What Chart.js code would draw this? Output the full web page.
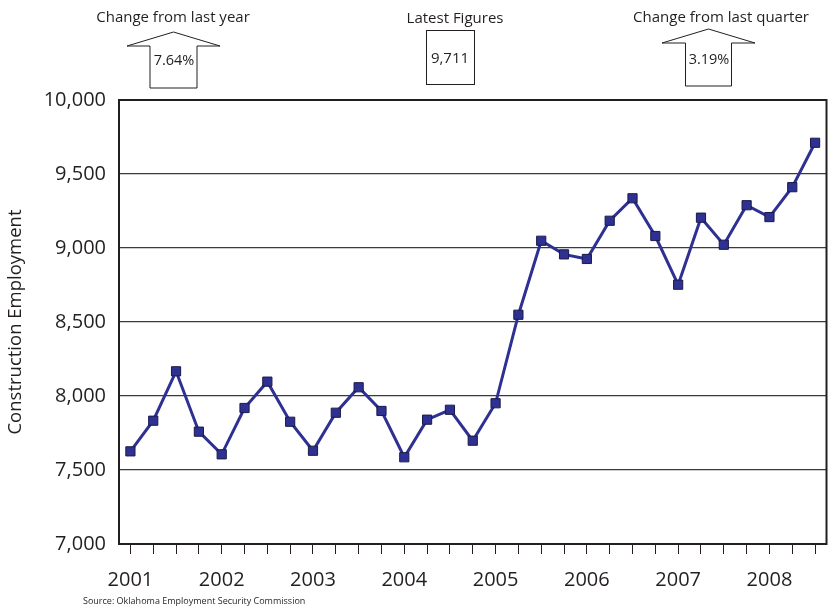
<!DOCTYPE html>
<html>
<head>
<meta charset="utf-8">
<script src="https://cdn.jsdelivr.net/npm/chart.js@4/dist/chart.umd.min.js"></script>
<style>
  html, body { margin: 0; padding: 0; background: #fff; }
  #wrap { width: 834px; height: 608px; position: relative; }
</style>
</head>
<body>
<div id="wrap"><canvas id="c" width="834" height="608"></canvas></div>
<script>
// ---- data ----
const years = ['2001', '2002', '2003', '2004', '2005', '2006', '2007', '2008'];
const quarterNames = ['Q1', 'Q2', 'Q3', 'Q4'];
const quarters = [];
years.forEach(y => quarterNames.forEach(q => { if (!(y === '2008' && q === 'Q4')) quarters.push(y + ' ' + q); }));
const employment = [7626, 7833, 8167, 7759, 7606, 7919, 8097, 7826,
                    7630, 7887, 8059, 7899, 7586, 7840, 7907, 7698,
                    7951, 8549, 9049, 8957, 8926, 9184, 9336, 9081,
                    8752, 9205, 9022, 9289, 9209, 9411, 9711];
const yTicks = [7000, 7500, 8000, 8500, 9000, 9500, 10000];
const annYear = { title: 'Change from last year', value: '7.64%' };
const annLatest = { title: 'Latest Figures', value: '9,711' };
const annQuarter = { title: 'Change from last quarter', value: '3.19%' };
const sourceText = 'Source: Oklahoma Employment Security Commission';

const FONT = '"Open Sans", "Noto Sans", sans-serif';
const TXT = '#231f20';

function upArrow(ctx, cx, tipY, wingHalf, wingY, shaftHalf, bottomY) {
  ctx.beginPath();
  ctx.moveTo(cx, tipY);
  ctx.lineTo(cx + wingHalf, wingY);
  ctx.lineTo(cx + shaftHalf, wingY);
  ctx.lineTo(cx + shaftHalf, bottomY);
  ctx.lineTo(cx - shaftHalf, bottomY);
  ctx.lineTo(cx - shaftHalf, wingY);
  ctx.lineTo(cx - wingHalf, wingY);
  ctx.closePath();
  ctx.fillStyle = '#fff';
  ctx.fill();
  ctx.stroke();
}

const annotations = {
  id: 'annotations',
  afterDraw(chart) {
    const ctx = chart.ctx;
    const a = chart.chartArea;
    ctx.save();
    // plot frame
    ctx.strokeStyle = '#231f20';
    ctx.lineWidth = 2;
    ctx.strokeRect(a.left, a.top, a.right - a.left, a.bottom - a.top);

    ctx.lineWidth = 1;
    ctx.strokeStyle = '#231f20';
    ctx.fillStyle = TXT;
    ctx.textAlign = 'center';
    ctx.textBaseline = 'middle';

    // Change from last year
    ctx.font = '15px ' + FONT;
    ctx.fillStyle = TXT;
    ctx.fillText(annYear.title, 173, 18);
    upArrow(ctx, 173.5, 32, 46.5, 46, 23.5, 88);
    ctx.fillStyle = TXT;
    ctx.font = '14.5px ' + FONT;
    ctx.fillText(annYear.value, 174, 61);

    // Latest figures
    ctx.font = '15px ' + FONT;
    ctx.fillText(annLatest.title, 455, 19);
    ctx.fillStyle = '#fff';
    ctx.fillRect(426.5, 30.5, 48, 54);
    ctx.strokeRect(426.5, 30.5, 48, 54);
    ctx.fillStyle = TXT;
    ctx.font = '15px ' + FONT;
    ctx.fillText(annLatest.value, 450, 59);

    // Change from last quarter
    ctx.font = '15px ' + FONT;
    ctx.fillText(annQuarter.title, 721, 18);
    upArrow(ctx, 708.5, 29, 46.5, 43, 23, 86);
    ctx.fillStyle = TXT;
    ctx.font = '14.5px ' + FONT;
    ctx.fillText(annQuarter.value, 709, 60);

    // source
    ctx.font = '9px ' + FONT;
    ctx.textAlign = 'left';
    ctx.fillText(sourceText, 83, 601);
    ctx.restore();
  }
};

new Chart(document.getElementById('c'), {
  type: 'line',
  data: {
    labels: quarters,
    datasets: [{
      data: employment,
      borderColor: '#2e3192',
      borderWidth: 3,
      backgroundColor: '#2e3192',
      pointStyle: 'rect',
      pointRadius: 6.5,
      pointBorderWidth: 1,
      pointBorderColor: '#1a1a4a',
      pointBackgroundColor: '#2e3192',
      tension: 0,
      fill: false
    }]
  },
  options: {
    responsive: false,
    animation: false,
    devicePixelRatio: 1,
    layout: { padding: { top: 100, right: 4, bottom: 0, left: 0 } },
    plugins: { legend: { display: false }, tooltip: { enabled: false } },
    scales: {
      x: {
        type: 'category',
        offset: true,
        afterFit(scale) { scale.height = 64; },
        grid: {
          display: true,
          drawOnChartArea: false,
          drawTicks: true,
          tickLength: 10,
          tickColor: '#231f20',
          tickWidth: 1,
          offset: false
        },
        border: { display: true, color: '#231f20', width: 2 },
        ticks: {
          autoSkip: false,
          maxRotation: 0,
          padding: 14,
          color: TXT,
          font: { family: FONT, size: 20 },
          callback(value, index) {
            const lbl = quarters[index];
            return lbl.endsWith('Q1') ? lbl.slice(0, 4) : '';
          }
        }
      },
      y: {
        min: 7000,
        max: 10000,
        afterFit(scale) { scale.width = 119; },
        afterBuildTicks(scale) { scale.ticks = yTicks.map(v => ({ value: v })); },
        grid: {
          display: true,
          drawTicks: false,
          color: '#3a3a3a',
          lineWidth: 1.3
        },
        border: { display: true, color: '#231f20', width: 2 },
        ticks: {
          padding: 13,
          color: TXT,
          font: { family: FONT, size: 20 },
          callback(v) { return v.toLocaleString('en-US'); }
        },
        title: {
          display: true,
          text: 'Construction Employment',
          color: TXT,
          font: { family: FONT, size: 18.5 },
          padding: { top: 5, bottom: 0 }
        }
      }
    }
  },
  plugins: [annotations]
});
</script>
</body>
</html>
